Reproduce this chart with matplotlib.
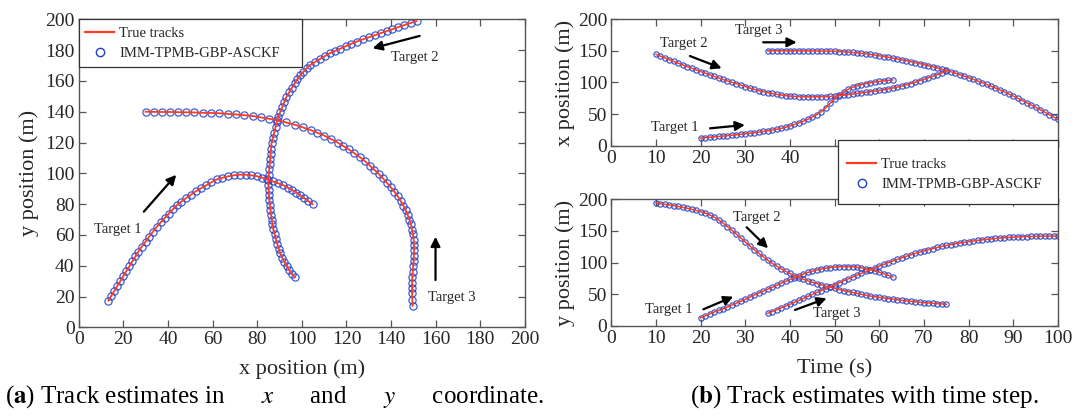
import numpy as np
import matplotlib
matplotlib.use("Agg")
import matplotlib.pyplot as plt
from matplotlib.patches import Rectangle

plt.rcParams['font.family'] = ['Liberation Serif', 'DejaVu Serif']
plt.rcParams['mathtext.fontset'] = 'stix'

# ---------------- data: panel (a), x-y tracks ----------------
a_t1_x = [13.3, 14.6, 16.0, 17.3, 18.7, 20.0, 21.3, 22.7, 24.0, 25.4, 26.7, 28.3, 30.0, 31.6, 33.3,
          35.0, 36.8, 38.6, 40.4, 42.2, 44.0, 46.0, 48.1, 50.3, 52.6, 54.9, 57.2, 59.5, 61.8, 64.3,
          66.9, 69.5, 72.2, 74.8, 77.3, 79.7, 82.2, 84.6, 87.0, 89.3, 91.6, 93.8, 95.8, 97.6, 99.1,
          101.0, 102.9, 104.8]
a_t1_y = [17.3, 20.5, 23.7, 26.9, 30.1, 33.3, 36.5, 39.6, 42.8, 46.0, 49.1, 52.4, 55.7, 58.9, 62.1,
          65.3, 68.2, 71.0, 73.8, 76.6, 79.3, 81.6, 83.9, 86.1, 88.4, 90.4, 92.2, 94.2, 96.0, 97.1,
          98.0, 98.7, 99.1, 99.1, 98.7, 98.2, 97.2, 96.0, 94.7, 93.6, 92.4, 90.6, 89.0, 87.5, 85.9,
          84.0, 82.0, 79.9]
a_t2_x = [151.4, 148.7, 146.0, 143.3, 140.6, 138.0, 135.3, 132.6, 129.9, 127.2, 124.5, 122.0, 119.6,
          117.2, 114.8, 112.5, 110.4, 108.2, 106.0, 103.8, 102.2, 100.7, 99.3, 98.0, 96.8, 95.6, 94.4,
          93.1, 92.2, 91.3, 90.4, 89.4, 88.8, 88.2, 87.6, 87.0, 86.4, 86.2, 86.0, 85.8, 85.6, 85.4,
          85.2, 85.0, 85.0, 85.1, 85.2, 85.4, 85.7, 85.9, 86.2, 86.5, 86.8, 87.2, 87.8, 88.4, 89.0,
          89.6, 90.3, 91.2, 92.2, 93.2, 94.3, 95.5, 96.9]
a_t2_y = [198.9, 197.6, 196.3, 195.0, 193.6, 192.3, 191.0, 189.6, 188.3, 186.9, 185.5, 184.0, 182.5,
          180.9, 179.4, 177.9, 176.2, 174.3, 172.4, 170.4, 168.2, 165.9, 163.6, 161.2, 158.4, 155.6,
          152.7, 149.7, 146.5, 143.3, 140.1, 136.8, 133.3, 129.8, 126.4, 122.9, 119.5, 116.1, 112.7,
          109.3, 106.0, 102.6, 99.2, 95.9, 92.6, 89.3, 86.0, 82.8, 79.6, 76.4, 73.2, 70.0, 66.8, 63.6,
          60.4, 57.2, 54.1, 51.1, 48.1, 45.3, 42.5, 39.9, 37.3, 34.8, 32.5]
a_t3_x = [149.6, 149.5, 149.4, 149.4, 149.4, 149.5, 149.7, 149.9, 150.1, 150.2, 150.3, 150.2, 150.1,
          149.8, 149.4, 148.9, 148.2, 147.4, 146.5, 145.5, 144.3, 143.0, 141.5, 139.8, 138.0, 136.3,
          134.5, 132.5, 130.5, 128.3, 126.0, 123.5, 121.0, 118.5, 116.0, 113.0, 110.0, 107.0, 104.0,
          100.5, 97.0, 93.0, 89.0, 85.3, 81.6, 78.0, 74.2, 70.5, 66.7, 63.0, 59.2, 55.5, 51.7, 48.0,
          44.4, 40.8, 37.2, 33.6, 30.0]
a_t3_y = [14.0, 18.0, 22.0, 25.5, 29.0, 32.5, 36.0, 39.5, 43.0, 46.5, 50.0, 53.5, 57.0, 60.3, 63.5,
          66.8, 70.0, 73.0, 76.0, 79.0, 82.0, 85.0, 88.0, 91.0, 94.0, 96.8, 99.5, 102.3, 105.0, 107.8,
          110.5, 113.0, 115.5, 117.8, 120.0, 122.3, 124.5, 126.3, 128.0, 129.8, 131.5, 133.0, 134.5,
          135.4, 136.3, 137.2, 137.7, 138.2, 138.6, 139.0, 139.2, 139.3, 139.5, 139.6, 139.7, 139.8,
          139.8, 139.9, 140.0]

# ---------------- data: panel (b), positions vs time ----------------
b_t1_time = np.arange(20, 64)
b_t1_x = [12, 12.7, 13.3, 14, 14.6, 15.2, 15.9, 16.6, 17.3, 18.1, 18.9, 19.7, 20.6, 21.5, 22.5, 23.6,
          24.7, 26, 27.4, 29.2, 31.3, 33.6, 36.1, 38.9, 41.8, 45.3, 49.2, 54, 60, 67, 74, 80, 85, 89,
          92.5, 95, 96.8, 98.3, 99.6, 100.7, 101.7, 102.6, 103.4, 104]
b_t1_y = [13, 16, 19, 22, 24.5, 27, 30, 33, 36, 39, 42, 45.5, 49, 52, 55, 58, 61, 64, 67.5, 70.5,
          73.5, 76.5, 79, 82, 84.5, 86.5, 88.5, 90, 91.3, 92.3, 93, 93.5, 93.7, 93.7, 93.4, 92.8,
          91.8, 90.5, 89, 87, 85, 82.5, 80, 77.5]
b_t2_time = np.arange(10, 76)
b_t2_x = [144.5, 141.7, 138.9, 136.1, 133.3, 130.5, 127.8, 125.2, 122.6, 120, 117.4, 114.8, 112.2,
          109.7, 107.2, 104.8, 102.5, 100.3, 98.1, 95.9, 93.6, 91.2, 89.1, 87.2, 85.5, 84, 82.6, 81.3,
          80.2, 79.2, 78.5, 78, 77.7, 77.5, 77.4, 77.4, 77.4, 77.5, 77.7, 78, 78.5, 79.2, 80, 80.9,
          81.8, 82.7, 83.6, 84.5, 85.5, 86.5, 87.5, 88.5, 89.8, 91.2, 92.7, 94.3, 96.2, 98.3, 100.5,
          102.8, 105.2, 107.6, 110, 112.5, 115, 118]
b_t2_y = [194, 193, 192, 191, 190, 188.7, 187.3, 185.8, 184.2, 182.4, 180.5, 178.3, 175.5, 172, 167.5,
          162.5, 157, 151, 145, 139, 132.5, 126.5, 120.5, 115, 109.5, 104, 99, 94.5, 90.3, 86.5, 83,
          79.5, 76.5, 73.8, 71.3, 69, 67, 65, 63, 61.2, 59.4, 57.6, 56, 54.4, 52.9, 51.5, 50, 48.6,
          47.3, 46.2, 45.2, 44.2, 43.3, 42.4, 41.5, 40.6, 39.7, 39, 38.3, 37.6, 37, 36.4, 35.8, 35.3,
          34.8, 34.4]
b_t3_time = np.arange(35, 101)
b_t3_x = [150.2, 150.2, 150.2, 150.2, 150.2, 150.2, 150.2, 150.1, 150.1, 150, 150, 149.9, 149.8, 149.6,
          149.4, 149.3, 149.0, 148.6, 148.1, 147.5, 146.9, 146.1, 145.3, 144.4, 143.4, 142.3, 141.1,
          139.9, 138.6, 137.3, 135.9, 134.5, 133, 131.5, 130, 128.3, 126.6, 124.8, 123, 121.1, 119.1,
          117, 114.8, 112.5, 110.1, 107.6, 105, 102.4, 99.7, 97, 94.2, 91.3, 88.2, 85, 81.8, 78.5, 75,
          71.5, 68, 64.4, 60.7, 57, 53.2, 49.3, 45.4, 41.5]
b_t3_y = [20, 22.8, 25.6, 28.5, 31.4, 34.4, 37.4, 40.5, 43.6, 46.7, 49.8, 52.9, 56, 59.1, 62.2, 65.3,
          68.3, 71.3, 74.3, 77.3, 80.3, 83.2, 86.1, 89, 91.8, 94.6, 97.3, 100, 102.6, 105.1, 107.6, 110,
          112.3, 114.5, 116.6, 118.6, 120.5, 122.3, 124, 125.6, 127.1, 128.5, 129.8, 131, 132.1, 133.2,
          134.2, 135.1, 136, 136.8, 137.5, 138.2, 138.8, 139.3, 139.8, 140.2, 140.6, 140.9, 141.2,
          141.4, 141.6, 141.7, 141.8, 141.9, 141.9, 141.9]

legend_labels = ["True tracks", "IMM-TPMB-GBP-ASCKF"]
captions = [r"($\mathbf{a}$) Track estimates in      $x$      and      $y$      coordinate.",
            r"($\mathbf{b}$) Track estimates with time step."]

RED = '#ff3b22'
BLUE = '#2040c8'
GRAY = '#555555'
TXT = '#262626'

W, H = 1073, 416
fig = plt.figure(figsize=(W / 100, H / 100), dpi=100)


def box(l, t, r, b):
    return [l / W, 1 - b / H, (r - l) / W, (b - t) / H]


def style(ax, tick_fs=14):
    for s in ax.spines.values():
        s.set_color(GRAY)
        s.set_linewidth(1.0)
    ax.tick_params(direction='in', top=True, right=True, length=5, width=0.9,
                   color=GRAY, labelsize=tick_fs, labelcolor=TXT, pad=3)


def draw(ax, x, y, ms, lw):
    ax.plot(x, y, 'o', ms=ms, mfc='none', mec=BLUE, mew=0.9, alpha=0.85, zorder=2)
    ax.plot(x, y, '-', color=RED, lw=lw, zorder=3)


def arrow(ax, tail, head):
    ax.annotate('', xy=head, xytext=tail,
                arrowprops=dict(arrowstyle='-|>', color='black', lw=1.6,
                                mutation_scale=14, shrinkA=0, shrinkB=0))


def legend_box(l, t, r, b, hx, ty, handles):
    fig.patches.append(Rectangle((l / W, 1 - b / H), (r - l) / W, (b - t) / H,
                                 transform=fig.transFigure, facecolor='white',
                                 edgecolor='#333333', lw=0.9, zorder=4))
    leg = fig.legend(handles, legend_labels, loc='upper left',
                     bbox_to_anchor=(hx / W, 1 - ty / H), borderaxespad=0, borderpad=0,
                     fontsize=10.5, frameon=False, handlelength=2.0, handletextpad=0.36,
                     labelspacing=0.48)
    leg.set_zorder(5)
    for t in leg.get_texts():
        t.set_color(TXT)
    return leg


# ---------------- panel (a) ----------------
axA = fig.add_axes(box(78.7, 19.3, 525, 327.3))
draw(axA, a_t1_x, a_t1_y, 5.2, 1.3)
draw(axA, a_t2_x, a_t2_y, 5.2, 1.3)
draw(axA, a_t3_x, a_t3_y, 5.2, 1.3)
axA.set_xlim(0, 200)
axA.set_ylim(0, 200)
axA.set_xticks(np.arange(0, 201, 20))
axA.set_yticks(np.arange(0, 201, 20))
style(axA)
axA.set_xlabel('x position (m)', fontsize=16, color=TXT, labelpad=8)
axA.set_ylabel('y position (m)', fontsize=16, color=TXT, labelpad=4)
axA.text(17.6, 63.8, 'Target 1', fontsize=10.5, color=TXT, ha='center', va='center')
arrow(axA, (29.2, 75.1), (43.7, 99))
axA.text(150.6, 175.2, 'Target 2', fontsize=10.5, color=TXT, ha='center', va='center')
arrow(axA, (152.8, 189.2), (131.7, 181.2))
axA.text(167.4, 19.4, 'Target 3', fontsize=10.5, color=TXT, ha='center', va='center')
arrow(axA, (159.9, 30.7), (159.9, 58.8))
hl, = axA.plot([], [], '-', color=RED, lw=1.6)
hm, = axA.plot([], [], 'o', ms=6, mfc='none', mec=BLUE, mew=1.0)

# ---------------- panel (b) top ----------------
axB1 = fig.add_axes(box(611.3, 19.3, 1058, 145.7))
draw(axB1, b_t1_time, b_t1_x, 3.8, 1.1)
draw(axB1, b_t2_time, b_t2_x, 3.8, 1.1)
draw(axB1, b_t3_time, b_t3_x, 3.8, 1.1)
axB1.set_xlim(0, 100)
axB1.set_ylim(0, 200)
top_ticks = np.arange(0, 101, 10)
axB1.set_xticks(top_ticks)
axB1.set_xticklabels([str(v) if v < 50 else '' for v in top_ticks])
axB1.set_yticks(np.arange(0, 201, 50))
style(axB1)
axB1.set_ylabel('x position (m)', fontsize=16, color=TXT, labelpad=2)
axB1.text(33.1, 181.5, 'Target 3', fontsize=10.5, color=TXT, ha='center', va='center')
arrow(axB1, (34.0, 163.6), (41.5, 163.6))
axB1.text(16.3, 161, 'Target 2', fontsize=10.5, color=TXT, ha='center', va='center')
arrow(axB1, (17.6, 141.9), (24.7, 122.5))
axB1.text(14.3, 28.8, 'Target 1', fontsize=10.5, color=TXT, ha='center', va='center')
arrow(axB1, (22.1, 27.5), (29.9, 32.8))

# ---------------- panel (b) bottom ----------------
axB2 = fig.add_axes(box(611.3, 199.3, 1058, 326))
draw(axB2, b_t1_time, b_t1_y, 3.8, 1.1)
draw(axB2, b_t2_time, b_t2_y, 3.8, 1.1)
draw(axB2, b_t3_time, b_t3_y, 3.8, 1.1)
axB2.set_xlim(0, 100)
axB2.set_ylim(0, 200)
axB2.set_xticks(np.arange(0, 101, 10))
axB2.set_yticks(np.arange(0, 201, 50))
style(axB2)
axB2.set_xlabel('Time (s)', fontsize=16, color=TXT, labelpad=9)
axB2.set_ylabel('y position (m)', fontsize=16, color=TXT, labelpad=2)
axB2.text(32.5, 171.3, 'Target 2', fontsize=10.5, color=TXT, ha='center', va='center')
arrow(axB2, (30.3, 155.8), (35.1, 122.7))
axB2.text(12.8, 26.5, 'Target 1', fontsize=10.5, color=TXT, ha='center', va='center')
arrow(axB2, (20.6, 26.3), (27.3, 46.3))
axB2.text(50.5, 19, 'Target 3', fontsize=10.5, color=TXT, ha='center', va='center')
arrow(axB2, (41.1, 25.3), (48.2, 43.7))

# ---------------- legends ----------------
legend_box(78.7, 19.3, 301.7, 66.7, 85, 27.0, [hl, hm])
legend_box(838, 140, 1058, 204, 847, 157.5, [hl, hm])

# ---------------- captions ----------------
fig.text(5 / W, 1 - 397 / H, captions[0], fontsize=18, color='black', ha='left', va='center')
fig.text(690 / W, 1 - 397 / H, captions[1], fontsize=18, color='black', ha='left', va='center')

fig.savefig('out.png', dpi=100, facecolor='white')
